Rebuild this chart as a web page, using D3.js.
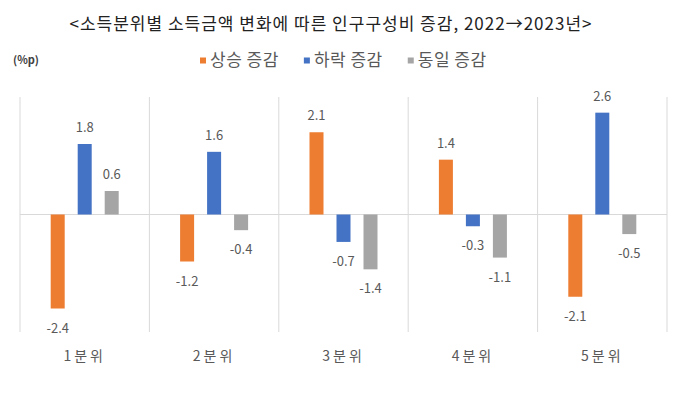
<!DOCTYPE html>
<html>
<head>
<meta charset="utf-8">
<script src="https://cdn.jsdelivr.net/npm/d3@7"></script>
<style>
  body { margin: 0; background: #fff; }
  text { font-family: "Noto Sans CJK KR", "Noto Sans", sans-serif; }
</style>
</head>
<body>
<div id="chart"></div>
<script>
// data
const categories = ['1분위', '2분위', '3분위', '4분위', '5분위']
const seriesNames = ['상승 증감', '하락 증감', '동일 증감']
const upValues = [-2.4, -1.2, 2.1, 1.4, -2.1]
const downValues = [1.8, 1.6, -0.7, -0.3, 2.6]
const sameValues = [0.6, -0.4, -1.4, -1.1, -0.5]
const colors = ['#ED7D31', '#4472C4', '#A5A5A5']

const title = '<소득분위별 소득금액 변화에 따른 인구구성비 증감, 2022→2023년>'

const svgWidth = 680
const svgHeight = 394

// plot box
const plot = { left: 20, right: 667, top: 97, bottom: 332 }

const svg = d3.select('#chart')
    .append('svg')
    .attr('width', svgWidth)
    .attr('height', svgHeight)

// table for bars
const seriesValues = [upValues, downValues, sameValues]
const rows = []
categories.forEach((c, i) => {
    seriesNames.forEach((s, j) => {
        rows.push({ cat: c, series: s, value: seriesValues[j][i], color: colors[j] })
    })
})

// scales
const xScale = d3.scaleBand()
    .domain(categories)
    .range([plot.left, plot.right])
    .padding(0)

const xInner = d3.scaleBand()
    .domain(seriesNames)
    .range([-34, 34])
    .paddingInner(13 / 27)
    .paddingOuter(0)

const yScale = d3.scaleLinear()
    .domain([-3, 3])
    .range([plot.bottom, plot.top])

// title
svg.append('text')
    .attr('x', 331)
    .attr('y', 30)
    .attr('text-anchor', 'middle')
    .attr('font-size', 17)
    .attr('letter-spacing', 1)
    .attr('fill', '#222')
    .text(title)

// unit
svg.append('text')
    .attr('x', 13)
    .attr('y', 64)
    .attr('font-size', 11)
    .attr('font-weight', 'bold')
    .attr('fill', '#404040')
    .text('(%p)')

// legend
const legend = svg.append('g')
let lx = 200
seriesNames.forEach((s, j) => {
    legend.append('rect')
        .attr('x', lx)
        .attr('y', 57.5)
        .attr('width', 6)
        .attr('height', 6)
        .attr('fill', colors[j])
    const t = legend.append('text')
        .attr('x', lx + 10)
        .attr('y', 66)
        .attr('font-size', 17)
        .attr('letter-spacing', 0.5)
        .attr('fill', '#595959')
        .text(s)
    lx += 10 + t.node().getComputedTextLength() + 25
})

// vertical separators between categories
const edges = categories.map(c => xScale(c)).concat([xScale.range()[1]])
svg.append('g')
    .selectAll('line')
    .data(edges)
    .join('line')
    .attr('x1', d => d)
    .attr('x2', d => d)
    .attr('y1', plot.top)
    .attr('y2', plot.bottom)
    .attr('stroke', '#d9d9d9')
    .attr('stroke-width', 1)

// zero line
svg.append('line')
    .attr('x1', plot.left)
    .attr('x2', plot.right)
    .attr('y1', yScale(0))
    .attr('y2', yScale(0))
    .attr('stroke', '#d9d9d9')
    .attr('stroke-width', 1)

// bars
const barX = d => xScale(d.cat) + xScale.bandwidth() / 2 + xInner(d.series)
svg.append('g')
    .selectAll('rect')
    .data(rows)
    .join('rect')
    .attr('x', d => barX(d))
    .attr('width', xInner.bandwidth())
    .attr('y', d => yScale(Math.max(0, d.value)))
    .attr('height', d => Math.abs(yScale(d.value) - yScale(0)))
    .attr('fill', d => d.color)

// data labels
svg.append('g')
    .selectAll('text')
    .data(rows)
    .join('text')
    .attr('x', d => barX(d) + xInner.bandwidth() / 2)
    .attr('y', d => d.value >= 0 ? yScale(d.value) - 12 : yScale(d.value) + 24)
    .attr('text-anchor', 'middle')
    .attr('font-size', 13)
    .attr('fill', '#595959')
    .text(d => d.value.toFixed(1))

// category labels
svg.append('g')
    .selectAll('text')
    .data(categories)
    .join('text')
    .attr('x', d => xScale(d) + xScale.bandwidth() / 2)
    .attr('y', 361)
    .attr('text-anchor', 'middle')
    .attr('font-size', 14)
    .attr('letter-spacing', 3)
    .attr('fill', '#595959')
    .text(d => d)
</script>
</body>
</html>
